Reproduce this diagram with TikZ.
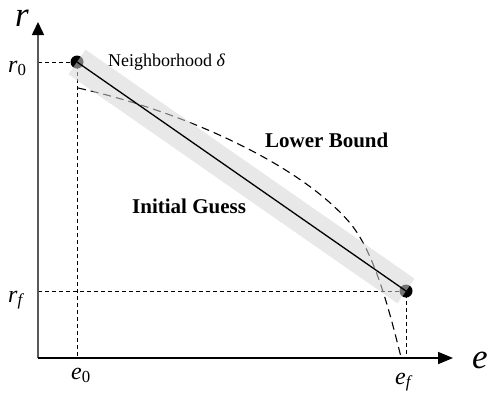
\documentclass[tikz,border=0pt]{standalone}
\usepackage{fontspec}
\setmainfont{Liberation Serif}
\usetikzlibrary{arrows.meta}

\begin{document}
\begin{tikzpicture}[x=1pt, y=-1pt,
    axisline/.style={line width=1.6pt},
    guide/.style={dash pattern=on 4pt off 3pt, line width=0.9pt},
    bound/.style={dash pattern=on 8pt off 5pt, line width=1.1pt},
    band/.style={line width=30pt, draw=gray!33, opacity=0.55},
    endpoint/.style={circle, fill=black, minimum size=13pt, inner sep=0pt},
    tick/.style={font=\fontsize{24}{24}\selectfont\itshape, inner sep=0pt, anchor=base west},
    axislabel/.style={font=\fontsize{35}{35}\selectfont\itshape, inner sep=0pt, text height=16pt, anchor=base},
    tag/.style={font=\fontsize{21}{24}\selectfont\bfseries, inner sep=0pt, anchor=base west}
  ]
  \useasboundingbox (0,0) rectangle (489,397);
  \coordinate (O) at (38,358);
  \coordinate (rtip) at (38,22);
  \coordinate (etip) at (453,358);
  \node[endpoint] (start) at (77,62) {};
  \node[endpoint] (goal) at (406,291) {};

  % guides to the axes
  \draw[guide] (start -| O) -- (start.center) -- (start |- O);
  \draw[guide] (goal -| O) -- (goal.center) -- (goal |- O);

  % lower bound
  \draw[bound] (78,88) .. controls (178,110) and (298,162) .. (350,223)
    .. controls (376,254) and (391,318) .. (401,357);

  \draw[band] (start.center) -- (goal.center);
  \draw[line width=1.3pt] (start.center) -- (goal.center);

  % axes
  \draw[axisline, draw=black!65, -{Triangle[length=13pt, width=12pt, color=black]}] (O) -- (rtip);
  \draw[axisline, -{Triangle[length=15pt, width=12pt]}] (O) -- (etip);
  \node[axislabel] (rname) at (22,26) {r};
  \node[axislabel] (ename) at (480,368) {e};

  \node[tick] (r0lab) at (8,72) {r\textsubscript{\upshape 0}};
  \node[tick] (rflab) at (8,302) {r\textsubscript{f}};
  \node[tick] (e0lab) at (71,379) {e\textsubscript{\upshape 0}};
  \node[tick] (eflab) at (395,384) {e\textsubscript{f}};

  \node[anchor=base west, inner sep=0pt, font=\fontsize{18}{20}\selectfont] (nbh) at (108,66) {Neighborhood \textit{δ}};
  \node[tag] (lower) at (265,147) {Lower Bound};
  \node[tag] (guess) at (132,213) {Initial Guess};
\end{tikzpicture}
\end{document}
